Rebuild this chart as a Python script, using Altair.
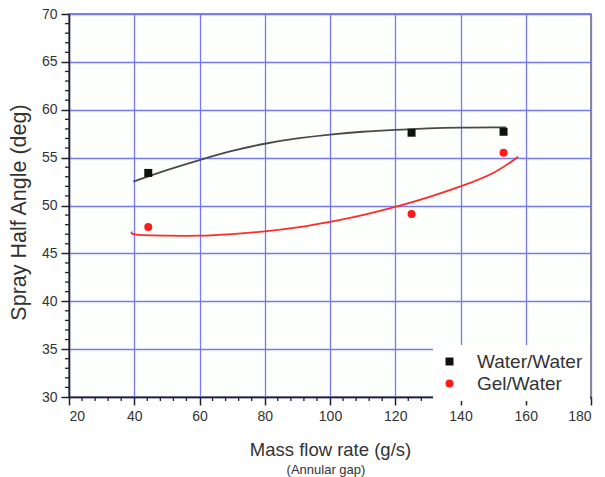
import altair as alt
import pandas as pd

# Measured spray half angles at three mass flow rates
flow_ww = [44.3, 125.0, 153.2]
angle_ww = [53.4, 57.6, 57.7]
flow_gw = [44.3, 125.0, 153.2]
angle_gw = [47.75, 49.1, 55.5]

# Fitted trend curves for each propellant pair
fit_flow_ww = [39.7, 50, 60, 70, 80, 90, 100, 110, 120, 130, 140, 150, 154]
fit_angle_ww = [52.5, 53.7, 54.75, 55.7, 56.45, 57.0, 57.4, 57.7, 57.9, 58.05, 58.13, 58.15, 58.15]
fit_flow_gw = [39.3, 40.7, 50, 60, 70, 80, 90, 100, 110, 120, 130, 140, 150, 157.7]
fit_angle_gw = [47.25, 46.95, 46.85, 46.85, 47.02, 47.3, 47.72, 48.3, 49.0, 49.85, 50.85, 52.0, 53.4, 55.1]

series_names = ["Water/Water", "Gel/Water"]
series_colors = ["#111111", "#ff1a1a"]
line_colors = ["#4a4a4a", "#ff2a2a"]

x_major = [20, 40, 60, 80, 100, 120, 140, 160, 180]
y_major = [30, 35, 40, 45, 50, 55, 60, 65, 70]
x_minor = [v for v in range(20, 181, 4) if v % 20 != 0]
y_minor = [v for v in range(30, 71) if v % 5 != 0]

W, H = 522, 383

points = pd.DataFrame({
    "flow": flow_ww + flow_gw,
    "angle": angle_ww + angle_gw,
    "series": [series_names[0]] * len(flow_ww) + [series_names[1]] * len(flow_gw),
})
fit_ww = pd.DataFrame({"flow": fit_flow_ww, "angle": fit_angle_ww})
fit_gw = pd.DataFrame({"flow": fit_flow_gw, "angle": fit_angle_gw})

FONT = "Liberation Sans"
TEXT = "#333333"

x_scale = alt.Scale(domain=[20, 180], nice=False, zero=False)
y_scale = alt.Scale(domain=[30, 70], nice=False, zero=False)

x_axis = alt.Axis(
    values=x_major, title="Mass flow rate (g/s)", grid=True,
    gridColor="#7878f4", gridWidth=1.3, tickSize=8, tickColor="#222",
    tickWidth=1.5, domainColor="#222", domainWidth=1.5,
    labelFont=FONT, labelFontSize=14, labelColor=TEXT, labelPadding=4,
    titleFont=FONT, titleFontSize=18.5, titleFontWeight="normal", titleColor=TEXT,
    titleX=W / 2, titleY=52, titleBaseline="middle", titleAlign="center",
)
y_axis = alt.Axis(
    values=y_major, title="Spray Half Angle (deg)", grid=True,
    gridColor="#7878f4", gridWidth=1.3, tickSize=8, tickColor="#222",
    tickWidth=1.5, domainColor="#222", domainWidth=1.5,
    labelFont=FONT, labelFontSize=14, labelColor=TEXT, labelPadding=4,
    titleFont=FONT, titleFontSize=21.5, titleFontWeight="normal", titleColor=TEXT,
    titleX=-50, titleY=198, titleAngle=270, titleBaseline="middle",
    titleAlign="center",
)

legend = alt.Legend(
    title=None, orient="none", legendX=364, legendY=331,
    fillColor="white", padding=7, labelFont=FONT, labelFontSize=19,
    labelColor=TEXT, symbolSize=64, rowPadding=2, labelOffset=18,
)

line_ww = alt.Chart(fit_ww).mark_line(strokeWidth=1.8, interpolate="natural", color=line_colors[0]).encode(
    x=alt.X("flow:Q", scale=x_scale, axis=x_axis),
    y=alt.Y("angle:Q", scale=y_scale, axis=y_axis),
)
line_gw = alt.Chart(fit_gw).mark_line(strokeWidth=1.8, interpolate="natural", color=line_colors[1]).encode(
    x=alt.X("flow:Q", scale=x_scale),
    y=alt.Y("angle:Q", scale=y_scale),
)

markers = alt.Chart(points).mark_point(filled=True, size=64, opacity=1).encode(
    x=alt.X("flow:Q", scale=x_scale),
    y=alt.Y("angle:Q", scale=y_scale),
    color=alt.Color("series:N", scale=alt.Scale(domain=series_names, range=series_colors), legend=legend),
    shape=alt.Shape("series:N", scale=alt.Scale(domain=series_names, range=["square", "circle"]), legend=legend),
)

x_minor_ticks = alt.Chart(pd.DataFrame({"v": x_minor})).mark_rule(color="#222", strokeWidth=1.3).encode(
    x=alt.X("v:Q", scale=x_scale), y=alt.value(H), y2=alt.value(H + 4),
)
y_minor_ticks = alt.Chart(pd.DataFrame({"v": y_minor})).mark_rule(color="#222", strokeWidth=1.3).encode(
    y=alt.Y("v:Q", scale=y_scale), x=alt.value(0), x2=alt.value(-4),
)

subtitle = alt.Chart(pd.DataFrame({"t": ["(Annular gap)"]})).mark_text(
    font=FONT, fontSize=13, color=TEXT, baseline="middle", align="center",
).encode(text="t:N", x=alt.value(W / 2 - 4), y=alt.value(H + 73))

chart = alt.layer(line_ww, line_gw, markers, x_minor_ticks, y_minor_ticks, subtitle).properties(
    width=W, height=H,
    autosize=alt.AutoSizeParams(type="none"),
    padding={"left": 69, "top": 14, "right": 14, "bottom": 80},
    background="white",
).configure_view(
    stroke="#6a6a6a", strokeWidth=1.5, fill="#fcfffc",
)

chart.save("out.html", embed_options={"renderer": "svg", "actions": False})
